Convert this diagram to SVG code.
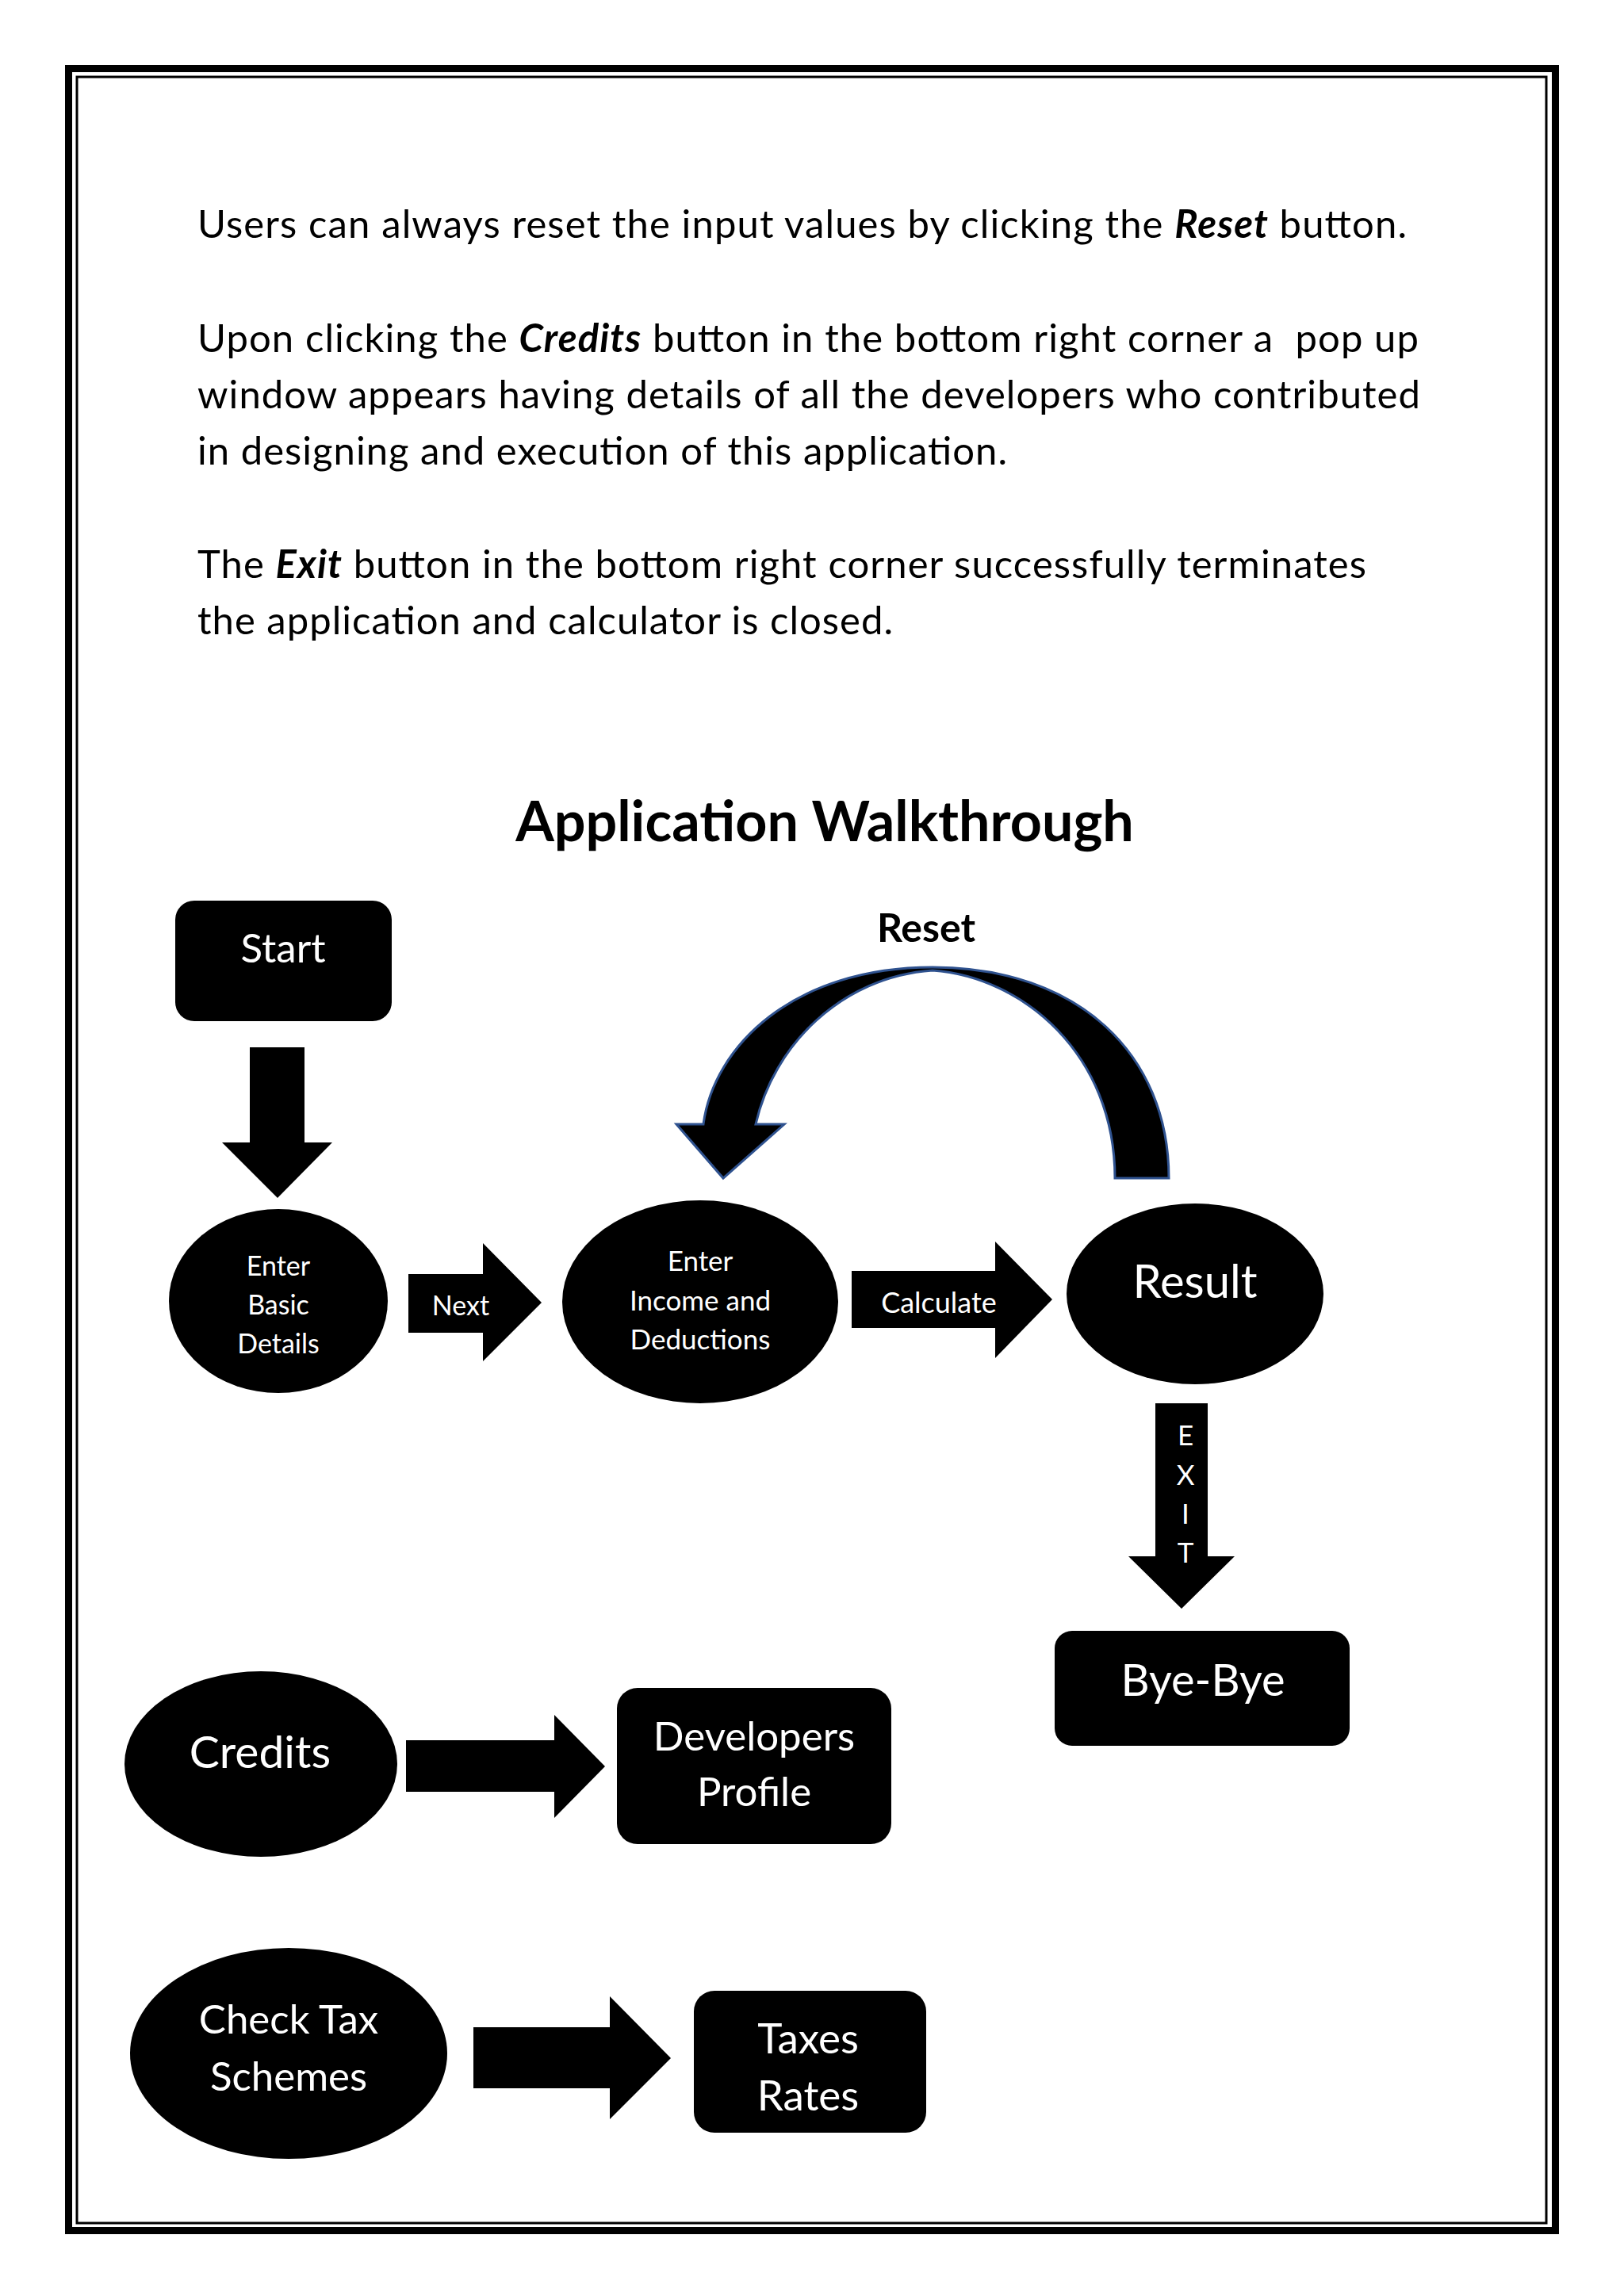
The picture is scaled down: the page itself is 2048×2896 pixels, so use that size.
<svg xmlns="http://www.w3.org/2000/svg" width="2048" height="2896" viewBox="0 0 2048 2896">
<style>
.body{font-family:Lato,"Liberation Sans",sans-serif;font-size:49px;fill:#000}
.bi{font-weight:bold;font-style:italic}
.title{font-family:Lato,"Liberation Sans",sans-serif;font-size:70px;font-weight:bold;fill:#000}
.lbl{font-family:Lato,"Liberation Sans",sans-serif;fill:#fff;text-anchor:middle}
.dark{font-family:Lato,"Liberation Sans",sans-serif;fill:#000;text-anchor:middle;font-weight:bold}
.shape{fill:#000}
</style>
<rect x="0" y="0" width="2048" height="2896" fill="#fff"/>
<rect x="86.5" y="86.5" width="1875" height="2727" fill="none" stroke="#000" stroke-width="9"/>
<rect x="97" y="97" width="1853" height="2707" fill="none" stroke="#000" stroke-width="3"/>

<g id="text">
<text class="body" x="249" y="300" textLength="1525">Users can always reset the input values by clicking the <tspan class="bi">Reset</tspan> button.</text>
<text class="body" x="249" y="444" xml:space="preserve" textLength="1540">Upon clicking the <tspan class="bi">Credits</tspan> button in the bottom right corner a  pop up</text>
<text class="body" x="249" y="515" textLength="1542">window appears having details of all the developers who contributed</text>
<text class="body" x="249" y="586" textLength="1021">in designing and execution of this application.</text>
<text class="body" x="249" y="729" textLength="1474">The <tspan class="bi">Exit</tspan> button in the bottom right corner successfully terminates</text>
<text class="body" x="249" y="800" textLength="877">the application and calculator is closed.</text>
<text class="title" x="1040" y="1061" text-anchor="middle">Application Walkthrough</text>
</g>

<g id="connectors">
<g id="arrow-start">
<polygon class="shape" points="315,1321 384,1321 384,1441 419,1441 350,1511 280,1441 315,1441"/>
</g>
<g id="arrow-next">
<polygon class="shape" points="515,1607 609,1607 609,1568 683,1643 609,1717 609,1681 515,1681"/>
<text class="lbl" x="581" y="1659" font-size="34">Next</text>
</g>
<g id="arrow-calculate">
<polygon class="shape" points="1074,1603 1255,1603 1255,1566 1327,1639 1255,1713 1255,1675 1074,1675"/>
<text class="lbl" x="1184" y="1656" font-size="36">Calculate</text>
</g>
<g id="arrow-reset">
<path d="M 1474 1486 C 1474 1330 1360 1220 1176 1220 C 1000 1220 900 1320 887 1418 L 853 1418 L 912 1486 L 989 1418 L 953 1418 C 975 1320 1060 1232 1176 1224 C 1290 1232 1406 1330 1406 1486 Z" fill="#000" stroke="#2F528F" stroke-width="3" stroke-linejoin="miter"/>
<text class="dark" x="1168" y="1188" font-size="50">Reset</text>
</g>
<g id="arrow-exit">
<polygon class="shape" points="1457,1770 1523,1770 1523,1963 1557,1963 1490,2029 1423,1963 1457,1963"/>
<text class="lbl" x="1495" y="1823" font-size="35">E</text>
<text class="lbl" x="1495" y="1873" font-size="35">X</text>
<text class="lbl" x="1495" y="1922" font-size="35">I</text>
<text class="lbl" x="1495" y="1971" font-size="35">T</text>
</g>
<g id="arrow-credits">
<polygon class="shape" points="512,2195 699,2195 699,2163 763,2228 699,2293 699,2260 512,2260"/>
</g>
<g id="arrow-tax">
<polygon class="shape" points="597,2557 769,2557 769,2518 846,2596 769,2673 769,2634 597,2634"/>
</g>
</g>

<g id="node-start">
<rect class="shape" x="221" y="1136" width="273" height="152" rx="24"/>
<text class="lbl" x="357" y="1214" font-size="51">Start</text>
</g>
<g id="node-basic">
<ellipse class="shape" cx="351" cy="1641" rx="138" ry="116"/>
<text class="lbl" x="351" y="1609" font-size="34">Enter</text>
<text class="lbl" x="351" y="1658" font-size="34">Basic</text>
<text class="lbl" x="351" y="1707" font-size="34">Details</text>
</g>
<g id="node-income">
<ellipse class="shape" cx="883" cy="1642" rx="174" ry="128"/>
<text class="lbl" x="883" y="1603" font-size="35">Enter</text>
<text class="lbl" x="883" y="1653" font-size="35">Income and</text>
<text class="lbl" x="883" y="1702" font-size="35">Deductions</text>
</g>
<g id="node-result">
<ellipse class="shape" cx="1507" cy="1632" rx="162" ry="114"/>
<text class="lbl" x="1507" y="1637" font-size="58">Result</text>
</g>
<g id="node-byebye">
<rect class="shape" x="1330" y="2057" width="372" height="145" rx="22"/>
<text class="lbl" x="1517" y="2139" font-size="56">Bye-Bye</text>
</g>
<g id="node-credits">
<ellipse class="shape" cx="329" cy="2225" rx="172" ry="117"/>
<text class="lbl" x="328" y="2230" font-size="57">Credits</text>
</g>
<g id="node-developers">
<rect class="shape" x="778" y="2129" width="346" height="197" rx="26"/>
<text class="lbl" x="951" y="2208" font-size="51">Developers</text>
<text class="lbl" x="951" y="2278" font-size="51">Profile</text>
</g>
<g id="node-checktax">
<ellipse class="shape" cx="364" cy="2590" rx="200" ry="133"/>
<text class="lbl" x="364" y="2565" font-size="51">Check Tax</text>
<text class="lbl" x="364" y="2637" font-size="51">Schemes</text>
</g>
<g id="node-taxes">
<rect class="shape" x="875" y="2511" width="293" height="179" rx="26"/>
<text class="lbl" x="1019" y="2590" font-size="53">Taxes</text>
<text class="lbl" x="1019" y="2662" font-size="53">Rates</text>
</g>
</svg>
